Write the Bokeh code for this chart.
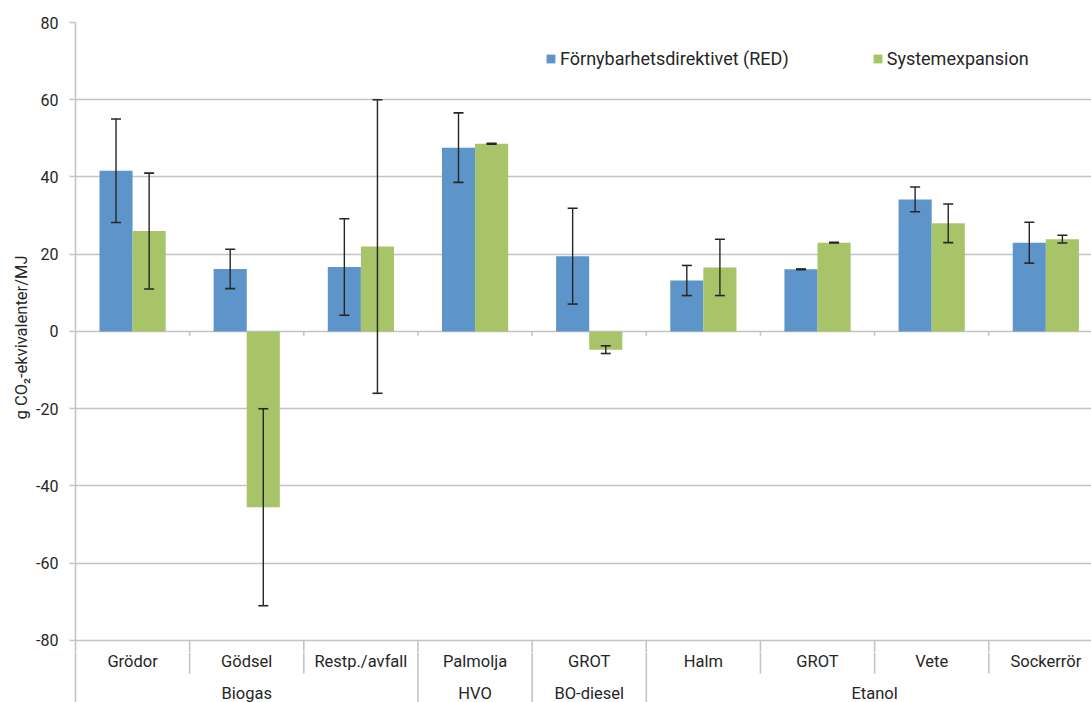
from bokeh.core.properties import value
from bokeh.embed import file_html
from bokeh.layouts import column
from bokeh.models import (ColumnDataSource, FixedTicker, Legend, LegendItem,
                          Range1d, TeeHead, Whisker)
from bokeh.plotting import figure
from bokeh.resources import INLINE

# Emission values, g CO2-eq per MJ, per feedstock
categories = ["Grödor", "Gödsel", "Restp./avfall", "Palmolja", "GROT",
              "Halm", "GROT", "Vete", "Sockerrör"]
groups = ["Biogas", "Biogas", "Biogas", "HVO", "BO-diesel",
          "Etanol", "Etanol", "Etanol", "Etanol"]

red_values = [41.6, 16.2, 16.7, 47.6, 19.5, 13.2, 16.1, 34.2, 23.0]
red_errors = [13.4, 5.1, 12.5, 9.0, 12.4, 3.9, 0.1, 3.2, 5.3]
sys_values = [26.0, -45.5, 22.0, 48.6, -4.7, 16.6, 23.0, 28.0, 23.9]
sys_errors = [15.0, 25.5, 38.0, 0.1, 1.0, 7.3, 0.1, 5.0, 1.0]

series_names = ["Förnybarhetsdirektivet (RED)", "Systemexpansion"]
y_ticks = [-80, -60, -40, -20, 0, 20, 40, 60, 80]
y_label = "g CO₂-ekvivalenter/MJ"

BLUE = "#5d95cb"
GREEN = "#a8c468"
GRID = "#c4c4c4"
TEXT = "#262626"
FONT = "Roboto"

BAR_W = 0.29
OFFSET = BAR_W / 2
Y_BOTTOM = -83.11   # a little room below -80 for the lowest tick label

n = len(categories)
centers = [i + 0.5 for i in range(n)]
x_red = [c - OFFSET for c in centers]
x_sys = [c + OFFSET for c in centers]
bounds = list(range(1, n))
x_range = Range1d(0, 8.9)

# ---- main chart -------------------------------------------------------
p = figure(width=1091, height=652, output_backend="svg", toolbar_location=None,
           x_range=x_range, y_range=Range1d(Y_BOTTOM, 80),
           x_axis_location=None,
           min_border_left=75, min_border_right=0,
           min_border_top=22, min_border_bottom=0)
p.outline_line_color = None

p.xgrid.visible = False
p.ygrid.ticker = FixedTicker(ticks=y_ticks)
p.ygrid.grid_line_color = GRID
p.ygrid.grid_line_width = 1.6

yax = p.yaxis[0]
yax.ticker = FixedTicker(ticks=y_ticks)
yax.major_label_overrides = {t: str(t) for t in y_ticks}
yax.axis_line_color = GRID
yax.axis_line_width = 1.6
yax.major_tick_line_color = GRID
yax.major_tick_line_width = 1.6
yax.major_tick_out = 6
yax.major_tick_in = 0
yax.minor_tick_line_color = None
yax.major_label_standoff = 11
yax.major_label_text_font = FONT
yax.major_label_text_font_size = "16px"
yax.major_label_text_color = TEXT
yax.axis_label = y_label
yax.axis_label_text_font = FONT
yax.axis_label_text_font_size = "16.5px"
yax.axis_label_text_font_style = "normal"
yax.axis_label_text_color = TEXT
yax.axis_label_standoff = 2

# bars
r_red = p.vbar(x=x_red, top=red_values, bottom=0, width=BAR_W,
               fill_color=BLUE, line_color=None)
r_sys = p.vbar(x=x_sys, top=sys_values, bottom=0, width=BAR_W,
               fill_color=GREEN, line_color=None)

# error bars, drawn above the bars
for xs, vals, errs in ((x_red, red_values, red_errors),
                       (x_sys, sys_values, sys_errors)):
    src = ColumnDataSource(data=dict(
        x=xs,
        upper=[v + e for v, e in zip(vals, errs)],
        lower=[v - e for v, e in zip(vals, errs)],
    ))
    p.add_layout(Whisker(
        source=src, base="x", upper="upper", lower="lower", level="overlay",
        line_color=TEXT, line_width=1.4,
        upper_head=TeeHead(size=10, line_color=TEXT, line_width=1.6),
        lower_head=TeeHead(size=10, line_color=TEXT, line_width=1.6),
    ))

# small tick marks under the zero line at category boundaries
p.segment(x0=bounds, y0=[0] * len(bounds), x1=bounds, y1=[-1.1] * len(bounds),
          line_color=GRID, line_width=1.6)
# top part of the category dividers, below the -80 line
p.segment(x0=bounds, y0=[-80] * len(bounds), x1=bounds,
          y1=[Y_BOTTOM] * len(bounds), line_color=GRID, line_width=1.6)

legend = Legend(items=[LegendItem(label=series_names[0], renderers=[r_red]),
                       LegendItem(label=series_names[1], renderers=[r_sys])],
                orientation="horizontal", location=(470, 583),
                glyph_width=11, glyph_height=11, label_standoff=4,
                spacing=83, padding=0, margin=0,
                border_line_color=None, background_fill_alpha=0,
                label_text_font=FONT, label_text_font_size="18px",
                label_text_color=TEXT, label_height=20)
p.add_layout(legend)

# ---- category / group labels under the chart ---------------------------
q = figure(width=1091, height=50, output_backend="svg", toolbar_location=None,
           x_range=x_range, y_range=Range1d(0, 50),
           x_axis_location=None,
           min_border_left=75, min_border_right=0,
           min_border_top=0, min_border_bottom=0)
q.outline_line_color = None
q.grid.visible = False
qax = q.yaxis[0]
qax.ticker = FixedTicker(ticks=[])
qax.axis_line_color = GRID
qax.axis_line_width = 1.6
qax.major_tick_line_color = None
qax.minor_tick_line_color = None

# dividers: short inside a group, full height between groups
div_bottom = [0 if groups[b - 1] != groups[b] else 29 for b in bounds]
q.segment(x0=bounds, y0=[50] * len(bounds), x1=bounds, y1=div_bottom,
          line_color=GRID, line_width=1.6)

q.text(x=centers, y=[41] * n, text=categories,
       text_align="center", text_baseline="middle",
       text_font=value(FONT), text_font_size="16.5px", text_color=TEXT)

# group labels, centred under each run of categories
g_names, g_centers = [], []
start = 0
for i in range(1, n + 1):
    if i == n or groups[i] != groups[start]:
        g_names.append(groups[start])
        g_centers.append((start + i) / 2)
        start = i
q.text(x=g_centers, y=[9] * len(g_names), text=g_names,
       text_align="center", text_baseline="middle",
       text_font=value(FONT), text_font_size="16.5px", text_color=TEXT)

layout = column(p, q, spacing=0)
open("out.html", "w").write(file_html(layout, INLINE))
